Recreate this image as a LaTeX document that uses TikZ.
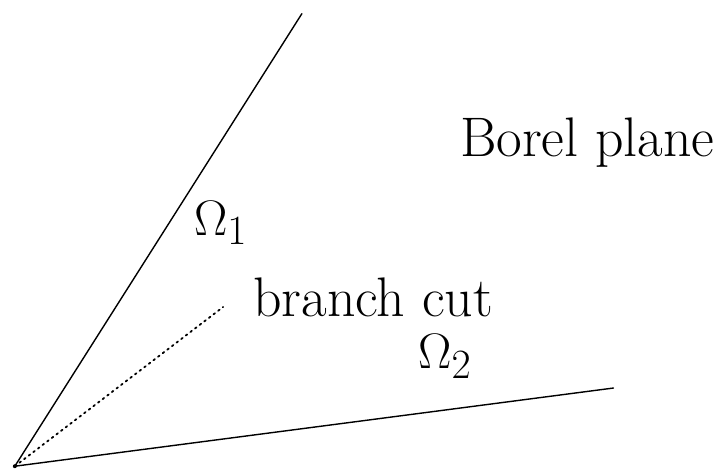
\documentclass[tikz,border=0pt]{standalone}
\usetikzlibrary{positioning}

\begin{document}
\begin{tikzpicture}[line cap=round,line join=round,font=\fontsize{27.8}{33}\selectfont]
  \useasboundingbox (0,0) rectangle (12.60,8.27);
  \coordinate (O) at (0.26,0.10);
  \coordinate (S1) at (5.29,8.03);
  \coordinate (S2) at (10.75,1.47);
  \coordinate (Cut) at (3.91,2.89);
  \draw[line width=0.7pt] (O) -- (S1);
  \draw[line width=0.7pt] (O) -- (S2);
  \draw[line width=0.9pt,dotted] (O) -- (Cut);
  \fill (O) circle (0.035);
  \node (om1) at (3.87,4.36) {$\Omega_1$};
  \node (om2) at (7.80,2.02) {$\Omega_2$};
  \node (cut) at (6.54,3.05) {branch cut};
  \node (borel) at (10.29,5.77) {Borel plane};
\end{tikzpicture}
\end{document}
